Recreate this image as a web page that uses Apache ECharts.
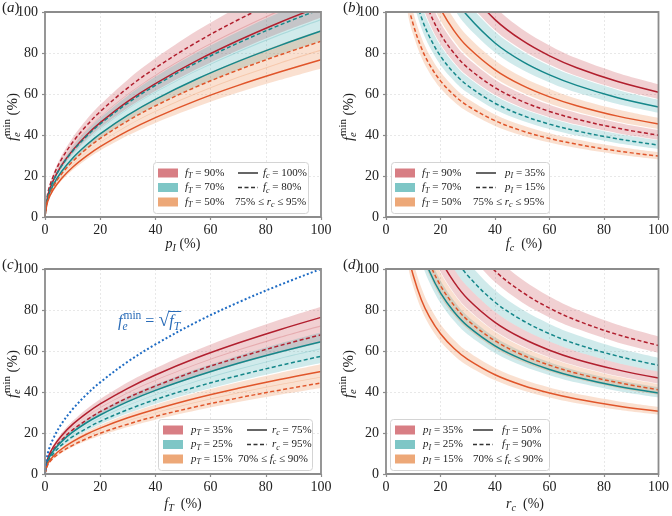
<!DOCTYPE html>
<html><head><meta charset="utf-8">
<script src="https://cdn.jsdelivr.net/npm/echarts@6/dist/echarts.min.js"></script>
<style>html,body{margin:0;padding:0;background:#fff}#c{width:672px;height:516px}</style>
</head><body><div id="c"></div>
<script>
// ---------- x sample points ----------
const X_SQRT = [0, 1, 3, 6, 10, 15, 20, 30, 40, 55, 70, 85, 100];
const X_INV = [5, 8, 10, 13, 16, 20, 25, 30, 40, 50, 60, 70, 85, 100];
const TICKS = [0, 20, 40, 60, 80, 100];

// ---------- panel (a): x = p_I ----------
const A_RED_S = [0, 10.3, 17.8, 25.2, 32.5, 39.9, 46.0, 56.4, 65.1, 76.3, 86.1, 94.9, 102.9];
const A_RED_D = [0, 11.5, 19.9, 28.2, 36.4, 44.5, 51.4, 63.0, 72.7, 85.3, 96.2, 106.0, 115.0];
const A_TEAL_S = [0, 9.1, 15.7, 22.2, 28.7, 35.1, 40.6, 49.7, 57.4, 67.3, 75.9, 83.6, 90.7];
const A_TEAL_D = [0, 10.2, 17.6, 24.9, 32.1, 39.3, 45.4, 55.6, 64.2, 75.3, 84.9, 93.6, 101.5];
const A_ORG_S = [0, 7.7, 13.3, 18.8, 24.3, 29.7, 34.3, 42.0, 48.5, 56.9, 64.2, 70.7, 76.7];
const A_ORG_D = [0, 8.6, 14.8, 21.0, 27.1, 33.2, 38.3, 46.9, 54.2, 63.6, 71.7, 79.0, 85.7];
const A_RED_S_HI = [0, 11.0, 19.0, 26.8, 34.6, 42.4, 49.0, 60.0, 69.3, 81.2, 91.6, 101.0, 109.5];
const A_RED_S_LO = [0, 9.7, 16.9, 23.8, 30.8, 37.7, 43.5, 53.3, 61.5, 72.2, 81.4, 89.7, 97.3];
const A_RED_D_HI = [0, 12.2, 21.2, 30.0, 38.7, 47.4, 54.7, 67.0, 77.4, 90.8, 102.4, 112.8, 122.4];
const A_RED_D_LO = [0, 10.9, 18.8, 26.7, 34.4, 42.1, 48.7, 59.6, 68.8, 80.7, 91.0, 100.3, 108.8];
const A_TEAL_S_HI = [0, 9.7, 16.7, 23.7, 30.5, 37.4, 43.2, 52.9, 61.1, 71.6, 80.8, 89.1, 96.6];
const A_TEAL_S_LO = [0, 8.6, 14.9, 21.0, 27.1, 33.2, 38.4, 47.0, 54.3, 63.6, 71.8, 79.1, 85.8];
const A_TEAL_D_HI = [0, 10.8, 18.7, 26.5, 34.2, 41.9, 48.3, 59.2, 68.4, 80.2, 90.4, 99.7, 108.1];
const A_TEAL_D_LO = [0, 9.6, 16.6, 23.5, 30.4, 37.2, 42.9, 52.6, 60.7, 71.2, 80.3, 88.5, 96.0];
const A_ORG_S_HI = [0, 8.2, 14.2, 20.0, 25.8, 31.6, 36.5, 44.7, 51.7, 60.6, 68.4, 75.3, 81.7];
const A_ORG_S_LO = [0, 7.3, 12.6, 17.8, 22.9, 28.1, 32.4, 39.7, 45.9, 53.8, 60.7, 66.8, 72.5];
const A_ORG_D_HI = [0, 9.1, 15.8, 22.3, 28.8, 35.3, 40.8, 50.0, 57.7, 67.6, 76.3, 84.1, 91.2];
const A_ORG_D_LO = [0, 8.1, 14.0, 19.9, 25.6, 31.4, 36.3, 44.4, 51.3, 60.1, 67.9, 74.8, 81.1];

// ---------- panel (b): x = f_c ----------
const B_RED_S = [272.4, 215.3, 192.6, 168.9, 152.3, 136.2, 121.8, 111.2, 96.3, 86.1, 78.6, 72.8, 66.1, 60.9];
const B_TEAL_S = [240.2, 189.9, 169.8, 148.9, 134.3, 120.1, 107.4, 98.0, 84.9, 75.9, 69.3, 64.2, 58.2, 53.7];
const B_ORG_S = [203.0, 160.5, 143.6, 125.9, 113.5, 101.5, 90.8, 82.9, 71.8, 64.2, 58.6, 54.3, 49.2, 45.4];
const B_RED_D = [178.4, 141.1, 126.2, 110.7, 99.8, 89.2, 79.8, 72.8, 63.1, 56.4, 51.5, 47.7, 43.3, 39.9];
const B_TEAL_D = [157.0, 124.1, 111.0, 97.3, 87.8, 78.5, 70.2, 64.1, 55.5, 49.6, 45.3, 42.0, 38.1, 35.1];
const B_ORG_D = [132.8, 105.0, 93.9, 82.4, 74.3, 66.4, 59.4, 54.2, 47.0, 42.0, 38.3, 35.5, 32.2, 29.7];
const B_RED_S_HI = [289.8, 229.1, 204.9, 179.7, 162.0, 144.9, 129.6, 118.3, 102.5, 91.6, 83.7, 77.4, 70.3, 64.8];
const B_RED_S_LO = [257.6, 203.6, 182.1, 159.8, 144.0, 128.8, 115.2, 105.2, 91.1, 81.5, 74.4, 68.8, 62.5, 57.6];
const B_TEAL_S_HI = [255.8, 202.2, 180.9, 158.6, 143.0, 127.9, 114.4, 104.4, 90.4, 80.9, 73.8, 68.4, 62.0, 57.2];
const B_TEAL_S_LO = [227.2, 179.6, 160.6, 140.9, 127.0, 113.6, 101.6, 92.7, 80.3, 71.8, 65.6, 60.7, 55.1, 50.8];
const B_ORG_S_HI = [216.0, 170.8, 152.7, 134.0, 120.8, 108.0, 96.6, 88.2, 76.4, 68.3, 62.4, 57.7, 52.4, 48.3];
const B_ORG_S_LO = [191.9, 151.7, 135.7, 119.0, 107.3, 95.9, 85.8, 78.3, 67.8, 60.7, 55.4, 51.3, 46.5, 42.9];
const B_RED_D_HI = [189.6, 149.9, 134.1, 117.6, 106.0, 94.8, 84.8, 77.4, 67.0, 60.0, 54.7, 50.7, 46.0, 42.4];
const B_RED_D_LO = [168.6, 133.3, 119.2, 104.6, 94.3, 84.3, 75.4, 68.8, 59.6, 53.3, 48.7, 45.1, 40.9, 37.7];
const B_TEAL_D_HI = [167.3, 132.2, 118.3, 103.7, 93.5, 83.6, 74.8, 68.3, 59.1, 52.9, 48.3, 44.7, 40.6, 37.4];
const B_TEAL_D_LO = [148.5, 117.4, 105.0, 92.1, 83.0, 74.2, 66.4, 60.6, 52.5, 47.0, 42.9, 39.7, 36.0, 33.2];
const B_ORG_D_HI = [141.3, 111.7, 99.9, 87.6, 79.0, 70.7, 63.2, 57.7, 50.0, 44.7, 40.8, 37.8, 34.3, 31.6];
const B_ORG_D_LO = [125.7, 99.3, 88.9, 77.9, 70.3, 62.8, 56.2, 51.3, 44.4, 39.7, 36.3, 33.6, 30.5, 28.1];

// ---------- panel (c): x = f_T ----------
const C_RED_S = [0, 7.6, 13.2, 18.7, 24.2, 29.6, 34.2, 41.8, 48.3, 56.7, 63.9, 70.4, 76.4];
const C_RED_D = [0, 6.8, 11.8, 16.6, 21.5, 26.3, 30.4, 37.2, 42.9, 50.4, 56.8, 62.6, 67.9];
const C_TEAL_S = [0, 6.5, 11.2, 15.8, 20.4, 25.0, 28.8, 35.3, 40.8, 47.8, 54.0, 59.5, 64.5];
const C_TEAL_D = [0, 5.7, 9.9, 14.1, 18.2, 22.2, 25.7, 31.4, 36.3, 42.6, 48.0, 52.9, 57.4];
const C_ORG_S = [0, 5.0, 8.7, 12.2, 15.8, 19.4, 22.4, 27.4, 31.6, 37.1, 41.8, 46.1, 50.0];
const C_ORG_D = [0, 4.4, 7.7, 10.9, 14.0, 17.2, 19.9, 24.3, 28.1, 32.9, 37.1, 40.9, 44.4];
const C_RED_S_HI = [0, 8.2, 14.1, 20.0, 25.8, 31.6, 36.5, 44.7, 51.6, 60.5, 68.3, 75.2, 81.6];
const C_RED_S_LO = [0, 7.2, 12.5, 17.6, 22.8, 27.9, 32.2, 39.4, 45.5, 53.4, 60.2, 66.4, 72.0];
const C_RED_D_HI = [0, 7.3, 12.6, 17.8, 23.0, 28.1, 32.5, 39.8, 45.9, 53.8, 60.7, 66.9, 72.6];
const C_RED_D_LO = [0, 6.4, 11.1, 15.7, 20.2, 24.8, 28.6, 35.1, 40.5, 47.5, 53.5, 59.0, 64.0];
const C_TEAL_S_HI = [0, 6.9, 12.0, 16.9, 21.8, 26.7, 30.9, 37.8, 43.6, 51.2, 57.7, 63.6, 69.0];
const C_TEAL_S_LO = [0, 6.1, 10.5, 14.9, 19.2, 23.5, 27.2, 33.3, 38.5, 45.1, 50.9, 56.1, 60.8];
const C_TEAL_D_HI = [0, 6.1, 10.6, 15.0, 19.4, 23.7, 27.4, 33.6, 38.8, 45.5, 51.3, 56.5, 61.3];
const C_TEAL_D_LO = [0, 5.4, 9.4, 13.3, 17.1, 21.0, 24.2, 29.6, 34.2, 40.1, 45.3, 49.9, 54.1];
const C_ORG_S_HI = [0, 5.4, 9.3, 13.1, 16.9, 20.7, 23.9, 29.3, 33.8, 39.7, 44.8, 49.3, 53.5];
const C_ORG_S_LO = [0, 4.7, 8.2, 11.5, 14.9, 18.2, 21.1, 25.8, 29.8, 34.9, 39.4, 43.4, 47.1];
const C_ORG_D_HI = [0, 4.8, 8.2, 11.6, 15.0, 18.4, 21.2, 26.0, 30.0, 35.2, 39.7, 43.8, 47.5];
const C_ORG_D_LO = [0, 4.2, 7.3, 10.3, 13.2, 16.2, 18.7, 22.9, 26.5, 31.1, 35.1, 38.6, 41.9];
const C_SQRT_FT = [0, 10.0, 17.3, 24.5, 31.6, 38.7, 44.7, 54.8, 63.2, 74.2, 83.7, 92.2, 100];

// ---------- panel (d): x = r_c ----------
const D_RED_S = [209.3, 165.5, 148.0, 129.8, 117.0, 104.6, 93.6, 85.4, 74.0, 66.2, 60.4, 55.9, 50.8, 46.8];
const D_RED_D = [280.4, 221.7, 198.3, 173.9, 156.8, 140.2, 125.4, 114.5, 99.1, 88.7, 80.9, 74.9, 68.0, 62.7];
const D_TEAL_S = [176.6, 139.7, 124.9, 109.6, 98.8, 88.3, 79.0, 72.1, 62.5, 55.9, 51.0, 47.2, 42.8, 39.5];
const D_TEAL_D = [237.0, 187.4, 167.6, 147.0, 132.5, 118.5, 106.0, 96.8, 83.8, 75.0, 68.4, 63.3, 57.5, 53.0];
const D_ORG_S = [136.8, 108.2, 96.8, 84.9, 76.5, 68.4, 61.2, 55.9, 48.4, 43.3, 39.5, 36.6, 33.2, 30.6];
const D_ORG_D = [183.8, 145.3, 130.0, 114.0, 102.8, 91.9, 82.2, 75.0, 65.0, 58.1, 53.1, 49.1, 44.6, 41.1];
const D_RED_S_HI = [223.6, 176.8, 158.1, 138.7, 125.0, 111.8, 100.0, 91.3, 79.1, 70.7, 64.6, 59.8, 54.2, 50.0];
const D_RED_S_LO = [197.2, 155.9, 139.5, 122.3, 110.3, 98.6, 88.2, 80.5, 69.7, 62.4, 56.9, 52.7, 47.8, 44.1];
const D_RED_D_HI = [300.1, 237.2, 212.2, 186.1, 167.8, 150.0, 134.2, 122.5, 106.1, 94.9, 86.6, 80.2, 72.8, 67.1];
const D_RED_D_LO = [264.7, 209.3, 187.2, 164.2, 148.0, 132.4, 118.4, 108.1, 93.6, 83.7, 76.4, 70.8, 64.2, 59.2];
const D_TEAL_S_HI = [188.7, 149.2, 133.4, 117.0, 105.5, 94.4, 84.4, 77.0, 66.7, 59.7, 54.5, 50.4, 45.8, 42.2];
const D_TEAL_S_LO = [166.8, 131.9, 118.0, 103.5, 93.3, 83.4, 74.6, 68.1, 59.0, 52.8, 48.2, 44.6, 40.5, 37.3];
const D_TEAL_D_HI = [253.6, 200.5, 179.3, 157.3, 141.8, 126.8, 113.4, 103.5, 89.6, 80.2, 73.2, 67.8, 61.5, 56.7];
const D_TEAL_D_LO = [223.6, 176.8, 158.1, 138.7, 125.0, 111.8, 100.0, 91.3, 79.1, 70.7, 64.6, 59.8, 54.2, 50.0];
const D_ORG_S_HI = [146.2, 115.6, 103.4, 90.7, 81.8, 73.1, 65.4, 59.7, 51.7, 46.2, 42.2, 39.1, 35.5, 32.7];
const D_ORG_S_LO = [129.2, 102.2, 91.4, 80.2, 72.3, 64.6, 57.8, 52.8, 45.7, 40.9, 37.3, 34.5, 31.3, 28.9];
const D_ORG_D_HI = [196.3, 155.2, 138.8, 121.8, 109.8, 98.2, 87.8, 80.1, 69.4, 62.1, 56.7, 52.5, 47.6, 43.9];
const D_ORG_D_LO = [173.1, 136.8, 122.4, 107.3, 96.8, 86.5, 77.4, 70.7, 61.2, 54.7, 50.0, 46.3, 42.0, 38.7];

// ---------- styling ----------
const FONT = '"Liberation Serif", "Times New Roman", serif';
const LINE = {red: '#b11f2e', teal: '#15878a', org: '#e0552a'};
const BAND = {red: 'rgba(190,40,50,0.22)', teal: 'rgba(40,160,165,0.22)', org: 'rgba(232,112,40,0.22)'};
const PATCH = ['#d87e84', '#7ec6c6', '#eda878'];
const DASH = [4, 2.5];

const GRIDS = [
  {left: 45, top: 12, width: 276, height: 205},
  {left: 386, top: 12, width: 276, height: 205},
  {left: 45, top: 269, width: 276, height: 205},
  {left: 386, top: 269, width: 276, height: 205}
];

const PANELS = [
  {xs: X_SQRT,
   bands: [[A_RED_S_LO, A_RED_S_HI, 'red'], [A_RED_D_LO, A_RED_D_HI, 'red'], [A_TEAL_S_LO, A_TEAL_S_HI, 'teal'], [A_TEAL_D_LO, A_TEAL_D_HI, 'teal'], [A_ORG_S_LO, A_ORG_S_HI, 'org'], [A_ORG_D_LO, A_ORG_D_HI, 'org']],
   lines: [[A_RED_S, 'red', false], [A_RED_D, 'red', true], [A_TEAL_S, 'teal', false], [A_TEAL_D, 'teal', true], [A_ORG_S, 'org', false], [A_ORG_D, 'org', true]]},
  {xs: X_INV,
   bands: [[B_RED_S_LO, B_RED_S_HI, 'red'], [B_RED_D_LO, B_RED_D_HI, 'red'], [B_TEAL_S_LO, B_TEAL_S_HI, 'teal'], [B_TEAL_D_LO, B_TEAL_D_HI, 'teal'], [B_ORG_S_LO, B_ORG_S_HI, 'org'], [B_ORG_D_LO, B_ORG_D_HI, 'org']],
   lines: [[B_RED_S, 'red', false], [B_RED_D, 'red', true], [B_TEAL_S, 'teal', false], [B_TEAL_D, 'teal', true], [B_ORG_S, 'org', false], [B_ORG_D, 'org', true]]},
  {xs: X_SQRT,
   bands: [[C_RED_S_LO, C_RED_S_HI, 'red'], [C_RED_D_LO, C_RED_D_HI, 'red'], [C_TEAL_S_LO, C_TEAL_S_HI, 'teal'], [C_TEAL_D_LO, C_TEAL_D_HI, 'teal'], [C_ORG_S_LO, C_ORG_S_HI, 'org'], [C_ORG_D_LO, C_ORG_D_HI, 'org']],
   lines: [[C_RED_S, 'red', false], [C_RED_D, 'red', true], [C_TEAL_S, 'teal', false], [C_TEAL_D, 'teal', true], [C_ORG_S, 'org', false], [C_ORG_D, 'org', true]]},
  {xs: X_INV,
   bands: [[D_RED_S_LO, D_RED_S_HI, 'red'], [D_RED_D_LO, D_RED_D_HI, 'red'], [D_TEAL_S_LO, D_TEAL_S_HI, 'teal'], [D_TEAL_D_LO, D_TEAL_D_HI, 'teal'], [D_ORG_S_LO, D_ORG_S_HI, 'org'], [D_ORG_D_LO, D_ORG_D_HI, 'org']],
   lines: [[D_RED_S, 'red', false], [D_RED_D, 'red', true], [D_TEAL_S, 'teal', false], [D_TEAL_D, 'teal', true], [D_ORG_S, 'org', false], [D_ORG_D, 'org', true]]}
];

// ---------- math text helper ----------
const mctx = document.createElement('canvas').getContext('2d');
function tw(t, f) { mctx.font = f; return mctx.measureText(t).width; }
function fnt(size, italic) { return (italic ? 'italic ' : '') + size + 'px ' + FONT; }
function txt(t, x, y, f, color) {
  return {type: 'text', x: x, y: y, z: 101, silent: true, style: {text: t, font: f, fill: color, align: 'left', verticalAlign: 'middle'}};
}
function mathGroup(parts, size, color, x, y, align, rotation) {
  const small = size * 0.72;
  let cx = 0; const kids = []; const marks = [];
  for (const [t, k] of parts) {
    marks.push(cx);
    if (k === 'n' || k === 'i') {
      const f = fnt(size, k === 'i'); kids.push(txt(t, cx, 0, f, color)); cx += tw(t, f);
    } else if (k === 'big') {
      const f = fnt(size * 1.25, false); kids.push(txt(t, cx, -size * 0.05, f, color)); cx += tw(t, f);
    } else if (k === 'sub') {
      const f = fnt(small, true); kids.push(txt(t, cx, size * 0.3, f, color)); cx += tw(t, f);
    } else if (k === 'sup') {
      const f = fnt(small, false); kids.push(txt(t, cx, -size * 0.38, f, color)); cx += tw(t, f);
    } else if (k === 'ss') {
      const f1 = fnt(small, true), f2 = fnt(small, false);
      kids.push(txt(t[0], cx, size * 0.3, f1, color));
      kids.push(txt(t[1], cx + 1, -size * 0.4, f2, color));
      cx += Math.max(tw(t[0], f1), tw(t[1], f2) + 1);
    }
  }
  const off = align === 'center' ? -cx / 2 : (align === 'right' ? -cx : 0);
  kids.forEach(k => { k.x += off; });
  return {el: {type: 'group', x: x, y: y, rotation: rotation || 0, children: kids, silent: true, z: 101},
          marks: marks.map(m => m + off), width: cx};
}

// smooth path through pixel points (rendering only)
function crSegs(pts, start) {
  const n = pts.length, k = 1 / 6;
  let d = (start ? 'M' : 'L') + pts[0][0].toFixed(2) + ',' + pts[0][1].toFixed(2);
  for (let i = 0; i < n - 1; i++) {
    const p0 = pts[Math.max(i - 1, 0)], p1 = pts[i], p2 = pts[i + 1], p3 = pts[Math.min(i + 2, n - 1)];
    const c1 = [p1[0] + (p2[0] - p0[0]) * k, p1[1] + (p2[1] - p0[1]) * k];
    const c2 = [p2[0] - (p3[0] - p1[0]) * k, p2[1] - (p3[1] - p1[1]) * k];
    d += 'C' + c1[0].toFixed(2) + ',' + c1[1].toFixed(2) + ' ' + c2[0].toFixed(2) + ',' + c2[1].toFixed(2) + ' ' + p2[0].toFixed(2) + ',' + p2[1].toFixed(2);
  }
  return d;
}

// ---------- build option ----------
const grid = [], xAxis = [], yAxis = [], series = [];
GRIDS.forEach((g, gi) => {
  grid.push(Object.assign({show: true, borderColor: '#8c8c8c', borderWidth: 1.8, backgroundColor: 'transparent', z: 5}, g));
  const common = {
    gridIndex: gi, type: 'value', min: 0, max: 100, interval: 20,
    axisLine: {show: false},
    axisTick: {show: true, length: 3, lineStyle: {color: '#8c8c8c', width: 1.2}},
    axisLabel: {fontFamily: FONT, fontSize: 14, color: '#222'},
    splitLine: {show: true, showMinLine: false, showMaxLine: false,
      lineStyle: {color: '#e3e3e3', type: [2, 2], width: 0.8}}
  };
  xAxis.push(Object.assign({}, common, {axisLabel: Object.assign({}, common.axisLabel, {margin: 6})}));
  yAxis.push(Object.assign({}, common, {axisLabel: Object.assign({}, common.axisLabel, {margin: 7})}));
});

PANELS.forEach((p, gi) => {
  p.bands.forEach(([lo, hi, c]) => {
    series.push({type: 'custom', xAxisIndex: gi, yAxisIndex: gi, coordinateSystem: 'cartesian2d',
      clip: true, silent: true, z: 1,
      encode: {x: 0, y: [1, 2]},
      data: p.xs.map((x, i) => [x, lo[i], hi[i]]),
      renderItem: function (params, api) {
        if (params.dataIndex !== 0) return null;
        const hiPts = p.xs.map((x, i) => api.coord([x, hi[i]]));
        const loPts = p.xs.map((x, i) => api.coord([x, lo[i]])).reverse();
        const d = crSegs(hiPts, true) + crSegs(loPts, false) + 'Z';
        return {type: 'path', shape: {pathData: d}, style: {fill: BAND[c], stroke: null}};
      }});
  });
  p.lines.forEach(([ys, c, dashed]) => {
    series.push({type: 'line', xAxisIndex: gi, yAxisIndex: gi, symbol: 'none', smooth: 0.35, silent: true, z: 3,
      lineStyle: {color: LINE[c], width: 1.5, type: dashed ? DASH : 'solid'},
      data: p.xs.map((x, i) => [x, ys[i]])});
  });
});
series.push({type: 'line', xAxisIndex: 2, yAxisIndex: 2, symbol: 'none', smooth: 0.35, silent: true, z: 3,
  lineStyle: {color: '#1f6cc4', width: 2, type: [2, 2.2]},
  data: X_SQRT.map((x, i) => [x, C_SQRT_FT[i]])});

// ---------- graphics: labels, legends, annotation ----------
const graphics = [];
const INK = '#222';
[[2, 8, 'a'], [343, 8, 'b'], [2, 265, 'c'], [343, 265, 'd']].forEach(([x, y, l]) => {
  graphics.push(mathGroup([['(', 'n'], [l, 'i'], [')', 'n']], 15, INK, x, y, 'left').el);
});
const YNAME = [['f', 'i'], [['e', 'min'], 'ss'], [' (%)', 'n']];
[[13, 117], [349, 117], [13, 374], [349, 374]].forEach(([x, y]) => {
  graphics.push(mathGroup(YNAME, 15, INK, x, y, 'center', Math.PI / 2).el);
});
graphics.push(mathGroup([['p', 'i'], ['I', 'sub'], [' (%)', 'n']], 14, INK, 183, 244, 'center').el);
graphics.push(mathGroup([['f', 'i'], ['c', 'sub'], ['  (%)', 'n']], 14, INK, 524, 244, 'center').el);
graphics.push(mathGroup([['f', 'i'], ['T', 'sub'], ['  (%)', 'n']], 14, INK, 183, 504, 'center').el);
graphics.push(mathGroup([['r', 'i'], ['c', 'sub'], ['  (%)', 'n']], 14, INK, 525, 504, 'center').el);

function lbl(sym, sub, val) { return [[sym, 'i'], [sub, 'sub'], [' = ' + val, 'n']]; }
function rng(a, sym, sub, b) { return [[a + ' ≤ ', 'n'], [sym, 'i'], [sub, 'sub'], [' ≤ ' + b, 'n']]; }
const LEGENDS = [
  {box: [153, 162, 155, 51], top: 173, px: 158, tx: 185, lx: [238, 258], rx: 263, thx: 235,
   left: [lbl('f', 'T', '90%'), lbl('f', 'T', '70%'), lbl('f', 'T', '50%')],
   right: [lbl('f', 'c', '100%'), lbl('f', 'c', '80%')], third: rng('75%', 'r', 'c', '95%')},
  {box: [391, 162, 158, 51], top: 173, px: 395, tx: 422, lx: [476, 496], rx: 505, thx: 473,
   left: [lbl('f', 'T', '90%'), lbl('f', 'T', '70%'), lbl('f', 'T', '50%')],
   right: [lbl('p', 'I', '35%'), lbl('p', 'I', '15%')], third: rng('75%', 'r', 'c', '95%')},
  {box: [158, 419, 154, 51], top: 430, px: 163, tx: 191, lx: [247, 267], rx: 272, thx: 238,
   left: [lbl('p', 'T', '35%'), lbl('p', 'T', '25%'), lbl('p', 'T', '15%')],
   right: [lbl('r', 'c', '75%'), lbl('r', 'c', '95%')], third: rng('70%', 'f', 'c', '90%')},
  {box: [390, 419, 159, 51], top: 430, px: 395, tx: 423, lx: [473, 493], rx: 502, thx: 473,
   left: [lbl('p', 'I', '35%'), lbl('p', 'I', '25%'), lbl('p', 'I', '15%')],
   right: [lbl('f', 'T', '50%'), lbl('f', 'T', '90%')], third: rng('70%', 'f', 'c', '90%')}
];
LEGENDS.forEach(L => {
  graphics.push({type: 'rect', z: 99, silent: true,
    shape: {x: L.box[0] + 0.5, y: L.box[1] + 0.5, width: L.box[2], height: L.box[3], r: 3},
    style: {fill: 'rgba(255,255,255,0.92)', stroke: '#d4d4d4', lineWidth: 1}});
  const rows = [L.top, L.top + 14.5, L.top + 29];
  for (let i = 0; i < 3; i++) {
    graphics.push({type: 'rect', z: 100, silent: true,
      shape: {x: L.px, y: rows[i] - 4.5, width: 20, height: 9}, style: {fill: PATCH[i]}});
    graphics.push(mathGroup(L.left[i], 11, INK, L.tx, rows[i], 'left').el);
  }
  for (let i = 0; i < 2; i++) {
    graphics.push({type: 'line', z: 100, silent: true,
      shape: {x1: L.lx[0], y1: rows[i], x2: L.lx[1], y2: rows[i]},
      style: {stroke: '#333', lineWidth: 1.5, lineDash: i === 1 ? DASH : null}});
    graphics.push(mathGroup(L.right[i], 11, INK, L.rx, rows[i], 'left').el);
  }
  graphics.push(mathGroup(L.third, 11, INK, L.thx, rows[2], 'left').el);
});

const BLUE = '#2a6cb8';
const ann = mathGroup([['f', 'i'], [['e', 'min'], 'ss'], [' = ', 'n'], ['√', 'big'], ['f', 'i'], ['T', 'sub']], 16, BLUE, 118, 322, 'left');
graphics.push(ann.el);
graphics.push({type: 'line', z: 101, silent: true,
  shape: {x1: 118 + ann.marks[4] - 0.8, y1: 311.5, x2: 118 + ann.width + 1, y2: 311.5},
  style: {stroke: BLUE, lineWidth: 1}});

const chart = echarts.init(document.getElementById('c'), null, {renderer: 'canvas'});
chart.setOption({
  animation: false,
  backgroundColor: '#fff',
  grid: grid, xAxis: xAxis, yAxis: yAxis, series: series,
  graphic: {elements: graphics}
});
</script></body></html>
